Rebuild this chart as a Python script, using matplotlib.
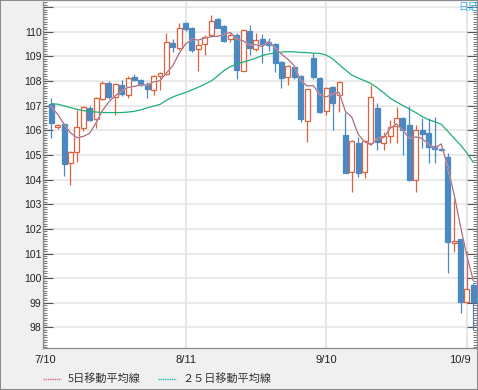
import matplotlib
matplotlib.use('Agg')
import matplotlib.pyplot as plt
import matplotlib.transforms as mtransforms
from matplotlib.ticker import MultipleLocator
from matplotlib.patches import Rectangle
import numpy as np

# daily candles, index 0 = first visible day
opens = [107.05, 106.12, 106.24, 104.66, 105.11, 106.08, 106.92, 106.46, 107.26, 107.93,
         107.36, 107.84, 107.44, 108.15, 108.04, 107.89, 107.64, 108.20, 108.28, 109.55,
         109.35, 110.36, 110.13, 109.28, 109.50, 109.86, 110.50, 110.23, 109.69, 109.86,
         108.41, 110.04, 109.29, 109.69, 109.58, 109.50, 108.78, 108.15, 108.58, 108.20,
         106.39, 108.92, 108.11, 106.80, 107.74, 107.45, 105.81, 104.32, 105.47, 104.32,
         105.50, 106.89, 105.47, 105.77, 106.17, 106.49, 106.22, 103.98, 106.01, 105.88,
         105.36, 105.25, 104.93, 101.44, 101.57, 99.05, 99.72]
highs = [107.30, 106.25, 106.28, 105.15, 106.82, 106.98, 106.97, 107.35, 107.98, 108.00,
         107.92, 108.04, 108.20, 108.28, 108.10, 107.95, 108.25, 108.37, 109.93, 109.69,
         110.34, 110.40, 110.20, 109.66, 109.86, 110.67, 110.54, 110.27, 110.00, 109.93,
         110.09, 110.27, 109.93, 109.90, 109.75, 109.55, 108.80, 108.63, 108.60, 108.25,
         107.68, 109.12, 108.15, 107.76, 107.78, 108.00, 106.75, 105.60, 105.74, 105.60,
         107.84, 107.10, 105.94, 106.42, 106.96, 106.52, 107.00, 106.20, 106.49, 106.49,
         106.55, 105.30, 105.07, 103.24, 101.60, 101.10, 99.79]
lows = [105.67, 106.05, 104.14, 103.78, 104.73, 105.98, 106.36, 106.08, 107.22, 107.28,
        106.62, 107.39, 107.30, 107.99, 107.80, 107.30, 107.44, 107.64, 108.25, 109.19,
        109.26, 110.02, 109.19, 108.41, 109.06, 109.80, 110.13, 109.59, 109.59, 108.10,
        108.41, 109.05, 109.20, 108.72, 109.20, 108.38, 107.70, 107.85, 108.10, 106.35,
        105.54, 108.10, 106.70, 106.62, 106.01, 106.75, 104.25, 103.51, 104.12, 104.05,
        105.40, 105.20, 105.20, 105.47, 105.47, 105.00, 103.95, 103.51, 105.30, 104.66,
        104.66, 105.15, 100.20, 101.08, 98.58, 99.00, 97.90]
closes = [106.28, 106.20, 104.62, 105.11, 106.12, 106.93, 106.42, 107.30, 107.91, 107.36,
          107.87, 107.46, 108.12, 108.03, 107.84, 107.67, 108.20, 108.31, 109.57, 109.36,
          110.17, 110.09, 109.25, 109.44, 109.77, 110.44, 110.17, 109.63, 109.86, 108.44,
          110.06, 109.33, 109.66, 109.50, 109.45, 108.74, 108.11, 108.61, 108.17, 106.45,
          107.66, 108.15, 106.75, 107.73, 107.12, 107.95, 104.28, 105.56, 104.28, 105.57,
          107.36, 105.54, 105.77, 106.15, 106.49, 106.01, 103.98, 106.01, 105.84, 105.33,
          105.23, 105.20, 101.48, 101.52, 99.05, 99.56, 99.05]

ma5 = [106.95, 106.65, 106.25, 105.90, 105.70, 105.75, 105.88, 106.30, 106.80, 107.15,
       107.40, 107.60, 107.74, 107.78, 107.85, 107.84, 107.97, 108.01, 108.32, 108.62,
       109.12, 109.50, 109.69, 109.66, 109.74, 109.80, 109.81, 109.89, 109.97, 109.71,
       109.63, 109.46, 109.47, 109.40, 109.60, 109.34, 109.09, 108.88, 108.62, 108.02,
       107.80, 107.81, 107.44, 107.35, 107.48, 107.54, 106.77, 106.53, 105.84, 105.53,
       105.41, 105.66, 105.70, 106.08, 106.26, 105.99, 105.68, 105.73, 105.67, 105.43,
       105.28, 105.45, 104.50, 103.40, 102.10, 100.90, 99.90]
ma25 = [107.08, 107.06, 106.99, 106.92, 106.85, 106.80, 106.76, 106.74, 106.72, 106.72,
        106.72, 106.72, 106.74, 106.77, 106.83, 106.91, 106.98, 107.05, 107.22, 107.35,
        107.45, 107.53, 107.64, 107.75, 107.87, 108.00, 108.20, 108.42, 108.58, 108.69,
        108.77, 108.84, 108.93, 109.03, 109.10, 109.14, 109.17, 109.19, 109.18, 109.16,
        109.15, 109.13, 109.12, 109.05, 108.90, 108.67, 108.45, 108.24, 108.12, 108.01,
        107.90, 107.72, 107.52, 107.30, 107.15, 107.00, 106.86, 106.72, 106.56, 106.43,
        106.35, 106.24, 105.96, 105.68, 105.40, 105.08, 104.70]

date_ticks = [-1, 21, 43, 65]
date_labels = ['7/10', '8/11', '9/10', '10/9']
price_ticks = list(range(98, 112))

UP = '#e0603c'
DOWN = '#4a89c2'

fig = plt.figure(figsize=(4.78, 3.90), dpi=100, facecolor='#f0f0f0')
ax = fig.add_axes([43.3 / 478, 1 - 347.7 / 390, (477 - 43.3) / 478, (347.7 - 1.5) / 390])
ax.set_facecolor('white')

x = np.arange(len(closes))
o = np.array(opens)
c = np.array(closes)
up = c >= o

ax.vlines(x, lows, highs, colors=[UP if u else DOWN for u in up], linewidth=0.9, zorder=2)
ax.bar(x, c - o, bottom=o, width=0.78,
       color=['white' if u else DOWN for u in up],
       edgecolor=[UP if u else DOWN for u in up], linewidth=0.9, zorder=3)

ax.plot(x, ma25, color='#1fae78', linewidth=0.9, zorder=4)
ax.plot(x, ma5, color='#d2d2d2', linewidth=1.1, zorder=4)
ax.plot(x, ma5, color='#a8506c', linewidth=0.6, zorder=5)

ax.set_xlim(-1.251, 66.58)
ax.set_ylim(97.18, 111.225)

ax.set_yticks(price_ticks)
ax.set_yticklabels([str(p) if p <= 110 else '' for p in price_ticks])
ax.yaxis.set_minor_locator(MultipleLocator(0.1))
ax.set_xticks(date_ticks)
ax.set_xticklabels(date_labels)

ax.tick_params(axis='y', which='major', direction='in', length=7, width=0.8, color='#555555',
               left=True, right=True, pad=1.2, labelsize=7.5, labelcolor='#222222')
ax.tick_params(axis='y', which='minor', direction='in', length=3.2, width=0.6, color='#666666',
               left=True, right=True)
ax.tick_params(axis='x', length=0, pad=5, labelsize=8, labelcolor='#222222')
for lab in ax.get_yticklabels() + ax.get_xticklabels():
    lab.set_fontfamily(['Liberation Sans', 'DejaVu Sans'])
last = ax.get_xticklabels()[-1]
last.set_transform(last.get_transform() + mtransforms.ScaledTranslation(-6.7 / 100, 0, fig.dpi_scale_trans))

ax.grid(True, axis='y', color='#e4e4e4', linewidth=1.1, zorder=0)
ax.grid(True, axis='x', color='#e6e6e6', linewidth=1.6, zorder=0)
ax.set_axisbelow(True)

for side in ['left', 'bottom', 'right']:
    ax.spines[side].set_color('#8a8a8a')
    ax.spines[side].set_linewidth(0.9)
ax.spines['top'].set_visible(False)

fig.text(458 / 478, 1 - 7 / 390, '日足', color='#3ab0e6', fontsize=7, va='center', ha='left',
         family=['Noto Sans CJK JP', 'DejaVu Sans'])

leg_h1, = ax.plot([], [], color='#d07090', linewidth=1.0, linestyle=(0, (1, 0.6)))
leg_h2, = ax.plot([], [], color='#20c0a0', linewidth=1.0, linestyle=(0, (1, 0.6)))
fig.legend([leg_h1, leg_h2], ['5日移動平均線', '２５日移動平均線'], loc='center left',
           bbox_to_anchor=(43 / 478, 1 - 379 / 390), ncol=2, frameon=False, borderpad=0,
           borderaxespad=0, handlelength=1.62, handletextpad=0.63, columnspacing=1.53,
           prop={'family': ['Noto Sans CJK JP', 'DejaVu Sans'], 'size': 8},
           labelcolor='#333333')

fig.patches.append(Rectangle((0, 0), 1, 1, transform=fig.transFigure, fill=False,
                             edgecolor='#8c8c8c', linewidth=1.5))

fig.savefig('out.png', dpi=100, facecolor=fig.get_facecolor())
